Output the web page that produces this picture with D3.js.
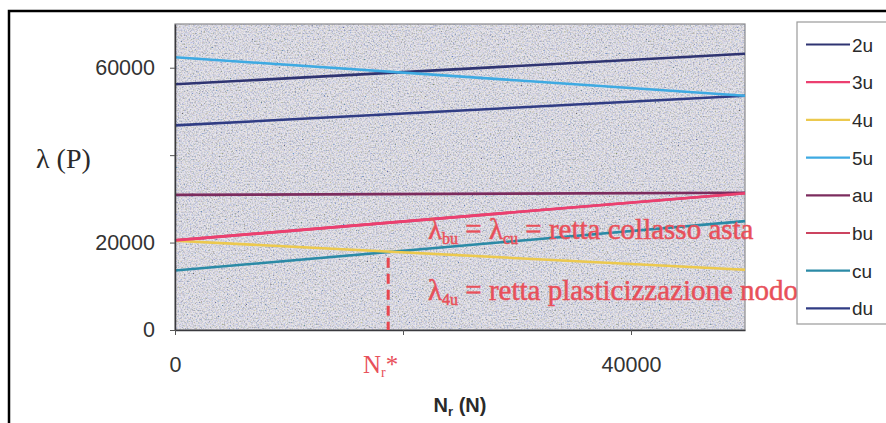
<!DOCTYPE html>
<meta charset="utf-8">
<style>
  body { margin: 0; background: #fff; }
  svg { display: block; }
</style>
<body>
<div id="chart"></div>
<script src="https://cdn.jsdelivr.net/npm/d3@7"></script>
<script>
// data (values at N_r = 0 and N_r = 50000)
var nrValues = [0, 50000];
var seriesNames = ["2u", "3u", "4u", "5u", "au", "bu", "cu", "du"];
var s2u = [56200, 63200];
var s3u = [20500, 31300];
var s4u = [20400, 13800];
var s5u = [62400, 53600];
var sau = [30900, 31400];
var sbu = [20500, 31300];
var scu = [13600, 24900];
var sdu = [46800, 53600];
var seriesColors = ["#2f3472", "#ec3f70", "#ecc94e", "#3eaae2", "#7c2c5e", "#cc4460", "#2b8aa6", "#303c84"];

var yTicks = [0, 20000, 40000, 60000];
var yTickLabels = ["0", "20000", "", "60000"];
var xTicks = [0, 20000, 40000];
var xTickLabels = ["0", "", "40000"];

var nrStar = 18700, nrStarTop = 16500;

var allSeries = [s2u, s3u, s4u, s5u, sau, sbu, scu, sdu];

// drawing order: bu under 3u so the pink line stays on top
var drawOrder = [5, 4, 7, 0, 3, 6, 2, 1];

var W = 886, H = 423;
var margin = {top: 24, left: 175, right: 141, bottom: 93},
    width = W - margin.left - margin.right,
    height = H - margin.top - margin.bottom;

var x = d3.scaleLinear().domain([0, 50000]).range([0, width]);
var y = d3.scaleLinear().domain([0, 70000]).range([height, 0]);

var svg = d3.select("#chart").append("svg")
    .attr("width", W)
    .attr("height", H);

// scanned-paper noise for the plot area
var defs = svg.append("defs");
var flt = defs.append("filter").attr("id", "noise")
    .attr("x", 0).attr("y", 0).attr("width", 1).attr("height", 1);
flt.append("feTurbulence")
    .attr("type", "fractalNoise")
    .attr("baseFrequency", 0.65)
    .attr("numOctaves", 2)
    .attr("seed", 7);
flt.append("feColorMatrix")
    .attr("type", "matrix")
    .attr("values", "2.0 0.6 0 0 -0.55  1.6 0.7 0.3 0 -0.56  1.6 0 1.1 0 -0.52  0 0 0 0 0.5");

// outer frame (top and left edges)
svg.append("path")
    .attr("d", "M9," + H + "V11H" + W)
    .attr("fill", "none")
    .attr("stroke", "#000")
    .attr("stroke-width", 2.5);

var g = svg.append("g")
    .attr("transform", "translate(" + margin.left + "," + margin.top + ")");

g.append("rect")
    .attr("width", width).attr("height", height)
    .attr("fill", "#cccbd3");
g.append("rect")
    .attr("width", width).attr("height", height)
    .attr("filter", "url(#noise)");
g.append("rect")
    .attr("width", width).attr("height", height)
    .attr("fill", "none")
    .attr("stroke", "#8a8a8e")
    .attr("stroke-width", 1.2);

// lines
var line = d3.line()
    .x(function(d, i) { return x(nrValues[i]); })
    .y(function(d) { return y(d); });

drawOrder.forEach(function(k) {
  g.append("path")
      .datum(allSeries[k])
      .attr("fill", "none")
      .attr("stroke", seriesColors[k])
      .attr("stroke-width", 2.6)
      .attr("d", line);
});

// axes
var yAxis = g.append("g")
    .call(d3.axisLeft(y).tickValues(yTicks).tickSize(5).tickSizeOuter(0).tickPadding(15)
      .tickFormat(function(d, i) { return yTickLabels[i]; }));
var xAxis = g.append("g")
    .attr("transform", "translate(0," + height + ")")
    .call(d3.axisBottom(x).tickValues(xTicks).tickSize(5).tickSizeOuter(0).tickPadding(22)
      .tickFormat(function(d, i) { return xTickLabels[i]; }));
[yAxis, xAxis].forEach(function(a) {
  a.select(".domain").attr("stroke", "#3a3a3e").attr("stroke-width", 1.5);
  a.selectAll(".tick line").attr("stroke", "#555");
  a.selectAll("text")
      .attr("fill", "#333")
      .style("font-family", "'Liberation Sans', Arial, sans-serif")
      .style("font-size", "21.5px");
});

// dashed marker at N_r*
g.append("line")
    .attr("x1", x(nrStar)).attr("x2", x(nrStar))
    .attr("y1", y(nrStarTop)).attr("y2", y(0))
    .attr("stroke", "#e8474f")
    .attr("stroke-width", 3)
    .attr("stroke-dasharray", "10,6");

var red = "#e8505a";
var serif = "'Liberation Serif', 'Times New Roman', serif";

// annotations
var a1 = svg.append("text")
    .attr("x", 428).attr("y", 239)
    .attr("fill", red)
    .attr("stroke", red).attr("stroke-width", 0.5)
    .style("font-family", serif)
    .style("font-size", "29px");
a1.append("tspan").text("λ");
a1.append("tspan").attr("dy", 5).style("font-size", "16px").text("bu");
a1.append("tspan").attr("dy", -5).text(" = λ");
a1.append("tspan").attr("dy", 5).style("font-size", "16px").text("cu");
a1.append("tspan").attr("dy", -5).text(" = retta collasso asta");

var a2 = svg.append("text")
    .attr("x", 428).attr("y", 300)
    .attr("fill", red)
    .attr("stroke", red).attr("stroke-width", 0.5)
    .style("font-family", serif)
    .style("font-size", "29px");
a2.append("tspan").text("λ");
a2.append("tspan").attr("dy", 5).style("font-size", "16px").text("4u");
a2.append("tspan").attr("dy", -5).text(" = retta plasticizzazione nodo");

var ns = svg.append("text")
    .attr("x", 363).attr("y", 373)
    .attr("fill", red)
    .style("font-family", serif)
    .style("font-size", "25px");
ns.append("tspan").text("N");
ns.append("tspan").attr("dy", 4).style("font-size", "14px").text("r");
ns.append("tspan").attr("dy", -4).text("*");

// axis titles
svg.append("text")
    .attr("x", 36).attr("y", 168)
    .attr("fill", "#2a2a2a")
    .style("font-family", serif)
    .style("font-size", "28px")
    .text("λ (P)");

var xt = svg.append("text")
    .attr("x", margin.left + width / 2).attr("y", 412)
    .attr("text-anchor", "middle")
    .attr("fill", "#2a2a2a")
    .style("font-family", "'Liberation Sans', Arial, sans-serif")
    .style("font-weight", "bold")
    .style("font-size", "20px");
xt.append("tspan").text("N");
xt.append("tspan").attr("dy", 4).style("font-size", "13px").text("r");
xt.append("tspan").attr("dy", -4).text(" (N)");

// legend
var lg = svg.append("g").attr("transform", "translate(797,22)");
lg.append("rect")
    .attr("width", 100).attr("height", 302)
    .attr("fill", "#fff")
    .attr("stroke", "#9a9a9a")
    .attr("stroke-width", 1.2);
seriesNames.forEach(function(name, i) {
  var yy = 22.5 + i * 37.7;
  lg.append("line")
      .attr("x1", 9).attr("x2", 53)
      .attr("y1", yy).attr("y2", yy)
      .attr("stroke", seriesColors[i])
      .attr("stroke-width", 2.2);
  lg.append("text")
      .attr("x", 55).attr("y", yy + 7)
      .attr("fill", "#2a2a2a")
      .style("font-family", "'Liberation Sans', Arial, sans-serif")
      .style("font-size", "19px")
      .text(name);
});
</script>
</body>
